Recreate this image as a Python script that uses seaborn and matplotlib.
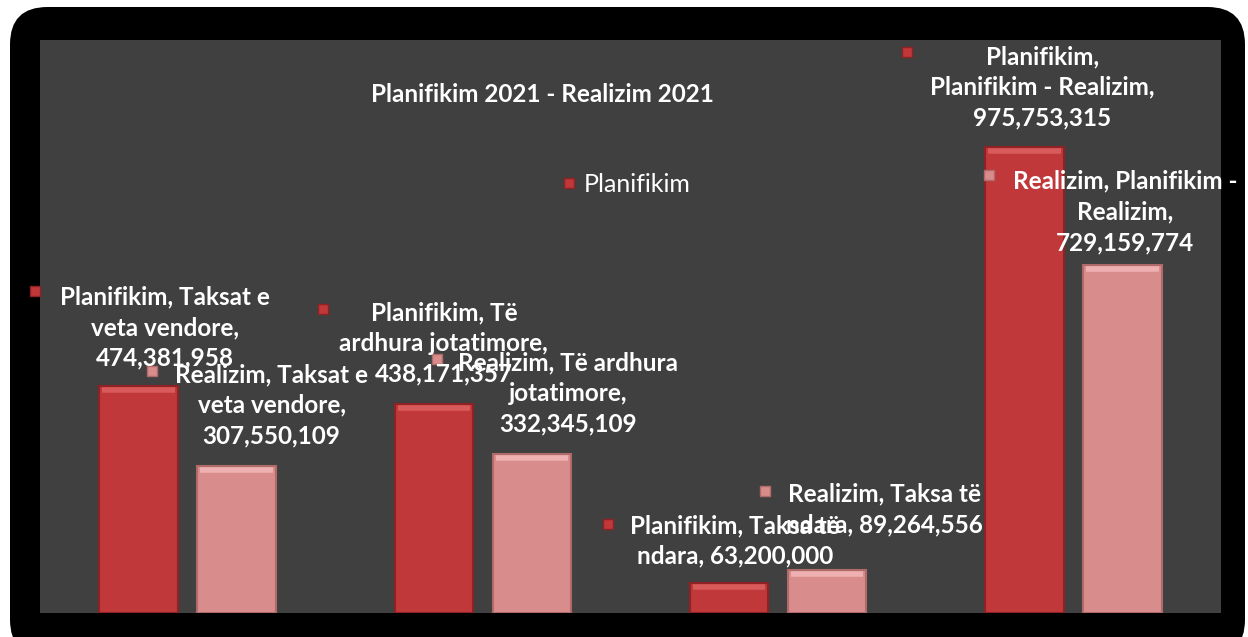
import matplotlib
matplotlib.use("Agg")
import matplotlib.pyplot as plt
import seaborn as sns
import pandas as pd
from matplotlib.patches import FancyBboxPatch
from matplotlib.transforms import offset_copy
from matplotlib.lines import Line2D

categories = ["Taksat e veta vendore", "Të ardhura jotatimore", "Taksa të ndara", "Planifikim - Realizim"]
series = ["Planifikim", "Realizim"]
planifikim = [474381958, 438171357, 63200000, 975753315]
realizim = [307550109, 332345109, 89264556, 729159774]
title = "Planifikim 2021 - Realizim 2021"

# label texts (with line breaks as in the reference)
labels_plan = ["Planifikim, Taksat e\nveta vendore,\n{}",
               "Planifikim, Të\nardhura jotatimore,\n{}",
               "Planifikim, Taksa të\nndara, {}",
               "Planifikim,\nPlanifikim - Realizim,\n{}"]
labels_real = ["Realizim, Taksat e\nveta vendore,\n{}",
               "Realizim, Të ardhura\njotatimore,\n{}",
               "Realizim, Taksa të\nndara, {}",
               "Realizim, Planifikim -\nRealizim,\n{}"]

# offsets (pixels) of label block centre / marker from the bar top centre
text_off_plan = [(26, 59), (10, 60), (6, 42), (18, 60)]
text_off_real = [(35, 61), (36, 61), (57, 61), (3, 53)]
mark_off_plan = [(-104, 95), (-111, 95), (-121, 59), (-117, 95)]
mark_off_real = [(-85, 95), (-95, 95), (-62, 79), (-133, 90)]

colors = {"Planifikim": "#c0383a", "Realizim": "#d98c8c"}
edge = {"Planifikim": "#8e2224", "Realizim": "#b06a6a"}
light = {"Planifikim": "#d85a5a", "Realizim": "#eeb0b0"}

df = pd.DataFrame({
    "Kategoria": categories * 2,
    "Seria": ["Planifikim"] * 4 + ["Realizim"] * 4,
    "Vlera": planifikim + realizim,
})

W, H = 1248, 637
fig = plt.figure(figsize=(W / 100, H / 100), dpi=100, facecolor="white")

frame = FancyBboxPatch((10 / W, -20 / H), 1235 / W, 650 / H,
                       boxstyle="round,pad=0,rounding_size=0.03",
                       transform=fig.transFigure, facecolor="black",
                       edgecolor="none", mutation_aspect=W / H, zorder=-10)
fig.patches.append(frame)

ax = fig.add_axes([40 / W, (H - 613) / H, 1181 / W, 573 / H])
ax.set_zorder(5)
ax.set_facecolor("#404040")

sns.barplot(data=df, x="Kategoria", y="Vlera", hue="Seria", order=categories,
            hue_order=series, palette=colors, width=0.664, gap=0.2,
            saturation=1, legend=False, ax=ax, errorbar=None)

ax.set_xlim(-0.5, 3.5)
ax.set_ylim(0, 1.2e9)
ax.set_xticks([])
ax.set_yticks([])
ax.set_xlabel("")
ax.set_ylabel("")
for s in ax.spines.values():
    s.set_visible(False)

font = "Lato"
for ci, (name, vals, labs, toff, moff) in enumerate([
        ("Planifikim", planifikim, labels_plan, text_off_plan, mark_off_plan),
        ("Realizim", realizim, labels_real, text_off_real, mark_off_real)]):
    cont = ax.containers[ci]
    for i, bar in enumerate(cont):
        bar.set_edgecolor(edge[name])
        bar.set_linewidth(1.5)
        xc = bar.get_x() + bar.get_width() / 2
        top = bar.get_height()
        # bevel highlight along the top of the bar
        ax.plot([bar.get_x() + 0.01, bar.get_x() + bar.get_width() - 0.01], [top, top],
                color=light[name], lw=4, solid_capstyle="butt",
                transform=offset_copy(ax.transData, fig=fig, x=0, y=-4, units="dots"))
        ax.annotate(labs[i].format(f"{vals[i]:,}"), xy=(xc, top),
                    xytext=toff[i], textcoords="offset pixels",
                    ha="center", va="center", color="white",
                    fontsize=17.5, fontweight="bold", family=font,
                    linespacing=1.4, annotation_clip=False, zorder=6)
        tr = offset_copy(ax.transData, fig=fig, x=moff[i][0], y=moff[i][1], units="dots")
        ax.plot([xc], [top], marker="s", markersize=7, color=colors[name],
                markeredgecolor=edge[name], transform=tr, clip_on=False)

ax.text(542 / W, 1 - 94 / H, title, transform=fig.transFigure, ha="center", va="center",
        color="white", fontsize=17.5, fontweight="bold", family=font)

ax.legend(handles=[Line2D([], [], marker="s", linestyle="none", markersize=7,
                          color=colors["Planifikim"], markeredgecolor=edge["Planifikim"],
                          label="Planifikim")],
          loc="center", bbox_to_anchor=(625 / W, 1 - 184 / H),
          bbox_transform=fig.transFigure, frameon=False,
          labelcolor="white", prop={"family": font, "size": 18},
          handletextpad=0.2, handlelength=0.8)

fig.savefig("out.png", dpi=100, facecolor="white")
